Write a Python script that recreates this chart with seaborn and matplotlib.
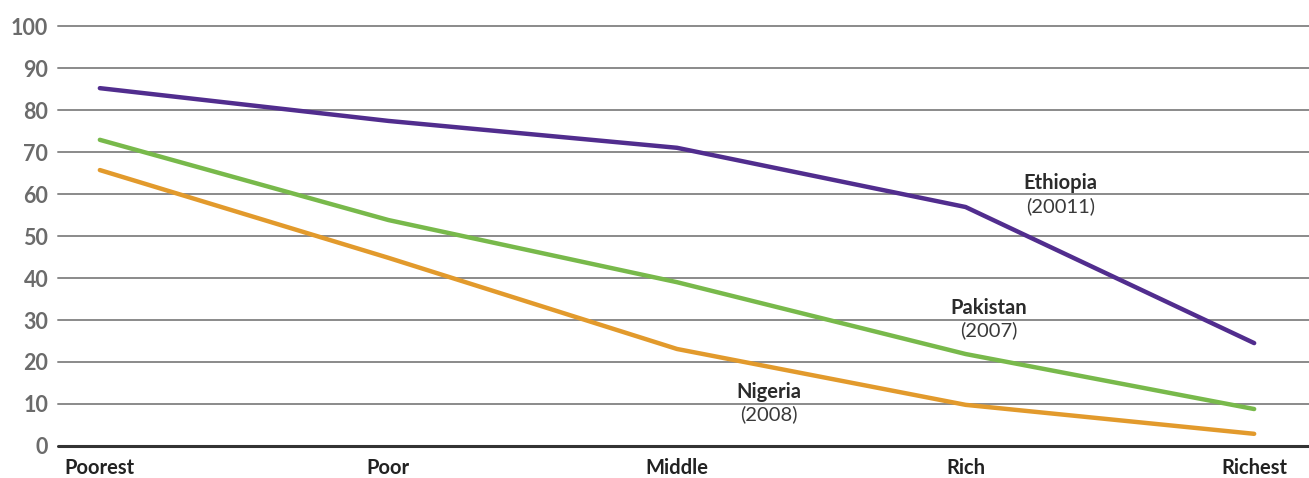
import matplotlib
matplotlib.use("Agg")
import matplotlib.pyplot as plt
import seaborn as sns
import pandas as pd

# Wealth quintiles and the share (%) for each country
quintiles = ["Poorest", "Poor", "Middle", "Rich", "Richest"]
ethiopia = [85.2, 77.4, 71.0, 56.9, 24.5]
pakistan = [72.9, 53.8, 39.0, 21.9, 8.8]
nigeria = [65.7, 44.8, 23.1, 9.8, 2.9]

countries = ["Ethiopia", "Pakistan", "Nigeria"]
survey_years = ["(20011)", "(2007)", "(2008)"]
y_ticks = [0, 10, 20, 30, 40, 50, 60, 70, 80, 90, 100]

colors = {"Ethiopia": "#512d8e", "Pakistan": "#78b94b", "Nigeria": "#e29a2c"}

frames = []
for name, vals in zip(countries, [ethiopia, pakistan, nigeria]):
    frames.append(pd.DataFrame({"quintile": quintiles,
                                "pos": range(len(quintiles)),
                                "value": vals,
                                "country": name}))
df = pd.concat(frames, ignore_index=True)

sns.set_theme(style="white")
plt.rcParams["font.family"] = ["Lato", "DejaVu Sans"]

fig = plt.figure(figsize=(13.09, 4.78), dpi=100)
ax = fig.add_axes([58 / 1309, 1 - 446 / 478, 1 - 58 / 1309, 420 / 478])

for y in y_ticks[1:]:
    ax.axhline(y, color="#8a8a8a", lw=1.4, zorder=0, clip_on=False)
ax.axhline(0, color="#333333", lw=2.2, zorder=1, clip_on=False)

sns.lineplot(data=df, x="pos", y="value", hue="country", palette=colors,
             hue_order=countries, lw=3.2, legend=False, ax=ax,
             solid_capstyle="round", zorder=3)

ax.set_xlim(-0.145, 4.19)
ax.set_ylim(0, 100)
ax.set_yticks(y_ticks)
ax.set_yticklabels([str(v) for v in y_ticks], fontsize=15.5,
                   fontweight="bold", color="#6b6b6b")
ax.set_xticks(range(len(quintiles)))
ax.set_xticklabels(quintiles, fontsize=14.5, fontweight="bold", color="#222222")
ax.tick_params(axis="y", length=0, pad=7)
ax.tick_params(axis="x", length=0, pad=9)
ax.set_xlabel("")
ax.set_ylabel("")
for s in ax.spines.values():
    s.set_visible(False)

# Direct labels for each series
label_pos = {"Ethiopia": (3.33, 62.6), "Pakistan": (3.08, 32.9), "Nigeria": (2.32, 12.9)}
for name, year in zip(countries, survey_years):
    x, y = label_pos[name]
    ax.text(x, y, name, ha="center", va="center", fontsize=14.5,
            fontweight="bold", color="#2b2b2b", zorder=4)
    ax.text(x, y - 5.4, year, ha="center", va="center", fontsize=14.5,
            color="#3a3a3a", zorder=4)

fig.savefig("out.png", dpi=100)
